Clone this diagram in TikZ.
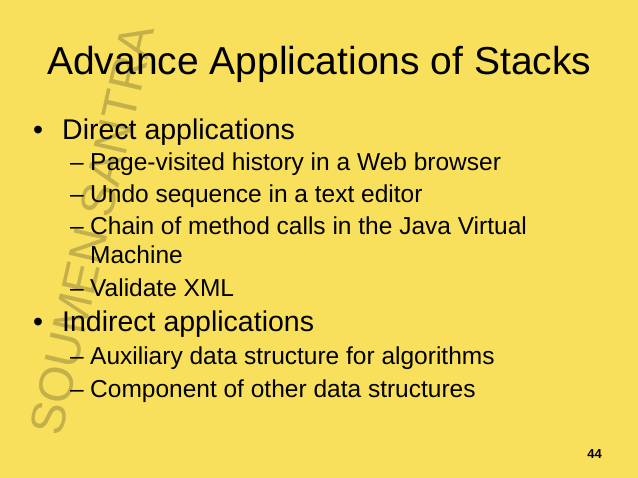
\documentclass[tikz,border=0pt]{standalone}
\usepackage{fontspec}
\setmainfont{Liberation Sans}
\definecolor{bg}{HTML}{F9E05C}
\definecolor{wm}{HTML}{C4B04A}
\begin{document}
\begin{tikzpicture}[x=1pt,y=-1pt,
  t1/.style={anchor=base west,inner sep=0pt,font=\fontsize{28.5}{32}\selectfont},
  t2/.style={anchor=base west,inner sep=0pt,font=\fontsize{24.5}{28}\selectfont}]
\fill[bg] (0,0) rectangle (638,478);
\useasboundingbox (0,0) rectangle (638,478);
\node[rotate=77,text=wm,font=\fontsize{48}{52}\selectfont,inner sep=0pt] (wm) at (92,230) {SOUMEN SANTRA};
\node[anchor=base west,inner sep=0pt,font=\fontsize{39}{44}\selectfont] (title) at (47,75) {Advance Applications of Stacks};
\node[t1] (b1) at (33,140) {•}; \node[t1] (a) at (62,140) {Direct applications};
\node[t2] (d1) at (70,171) {–}; \node[t2] (p1) at (90,171) {Page-visited history in a Web browser};
\node[t2] (d2) at (70,203) {–}; \node[t2] (p2) at (90,203) {Undo sequence in a text editor};
\node[t2] (d3) at (70,235) {–}; \node[t2] (p3) at (90,235) {Chain of method calls in the Java Virtual};
\node[t2] (p4) at (90,264) {Machine};
\node[t2] (d5) at (70,297) {–}; \node[t2] (p5) at (90,297) {Validate XML};
\node[t1] (b2) at (33,332) {•}; \node[t1] (b) at (62,332) {Indirect applications};
\node[t2] (d6) at (70,365) {–}; \node[t2] (p6) at (90,365) {Auxiliary data structure for algorithms};
\node[t2] (d7) at (70,398) {–}; \node[t2] (p7) at (90,398) {Component of other data structures};
\node[anchor=base east,inner sep=0pt,font=\bfseries\fontsize{13}{15}\selectfont] (n) at (602,459) {44};
\end{tikzpicture}
\end{document}
